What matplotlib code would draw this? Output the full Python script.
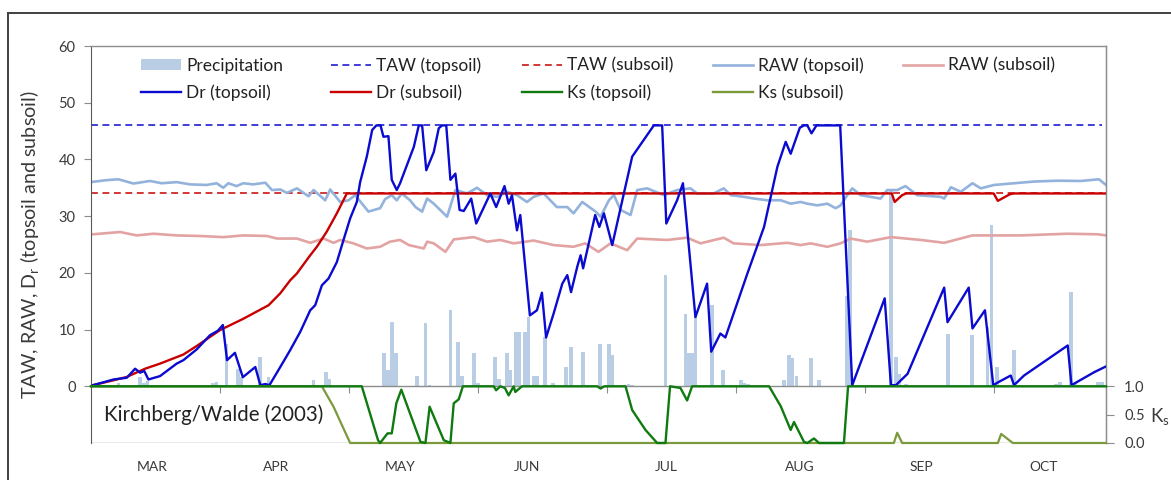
import matplotlib
matplotlib.use('Agg')
import matplotlib.pyplot as plt
from matplotlib.lines import Line2D
from matplotlib.patches import Patch

plt.rcParams['font.family'] = ['Lato', 'DejaVu Sans']

# ---------------- data (day 0 = 1 March 2003) ----------------
months = ['MAR', 'APR', 'MAY', 'JUN', 'JUL', 'AUG', 'SEP', 'OCT']
month_label_pos = [14.7, 44.5, 74.4, 104.7, 138.4, 170.4, 199.7, 229.0]
month_ticks = [31, 62, 93, 124, 155, 186, 217]

precip_day = [6.6, 11.8, 12.8, 13.6, 29.4, 30.2, 32.6, 35.4, 36.2, 40.7, 42.7, 49.0, 53.5, 56.5, 57.3,
              70.4, 71.4, 72.4, 73.4, 78.4, 80.4, 81.4, 86.4, 88.3, 89.1, 92.0, 93.0, 97.2, 98.0,
              100.0, 100.8, 102.2, 103.0, 104.4, 105.2, 106.4, 107.2, 109.2, 111.0, 114.2, 115.4,
              118.3, 122.3, 124.5, 125.3, 129.2, 130.0, 138.1, 142.9, 143.7, 144.5, 145.3, 149.3,
              152.0, 156.2, 157.0, 158.0, 166.6, 167.8, 168.6, 169.6, 173.0, 175.0, 181.6, 182.5,
              192.3, 193.5, 194.3, 196.0, 206.0, 211.7, 215.5, 216.5, 217.8, 221.9, 232.0, 233.0,
              235.6, 236.5, 242.0, 243.0]
precip_mm = [0.5, 1.7, 0.6, 1.0, 0.6, 0.8, 7.5, 3.1, 1.6, 5.2, 1.6, 0.3, 1.1, 2.5, 1.3,
             5.8, 2.8, 11.3, 5.8, 1.9, 11.1, 0.3, 13.5, 7.8, 1.9, 5.8, 0.5, 5.2, 1.2,
             5.8, 2.8, 9.6, 9.6, 9.6, 12.2, 1.9, 1.9, 8.7, 0.5, 3.4, 6.9,
             6.1, 7.5, 7.5, 5.5, 0.4, 0.3, 19.6, 12.8, 5.8, 5.8, 12.5, 14.3,
             2.8, 1.1, 0.5, 0.4, 1.1, 5.5, 4.9, 1.9, 4.9, 1.1, 16.0, 27.5,
             34.6, 5.2, 2.2, 0.4, 9.3, 9.0, 10.5, 28.4, 3.4, 6.4, 0.4, 0.8,
             16.6, 0.5, 0.8, 0.8]

taw_top = 46.0
taw_sub = 34.0

raw_top_day = [0.5, 3.8, 6.6, 10.2, 14.2, 17.0, 20.6, 23.8, 27.8, 30.2, 31.8, 33.0, 35.0, 36.6, 39.0,
               41.9, 43.5, 45.5, 47.1, 49.5, 52.3, 53.5, 56.3, 57.5, 59.9, 61.9, 63.5, 66.7, 69.5,
               70.7, 72.3, 73.5, 74.7, 76.7, 78.0, 79.6, 80.8, 82.4, 85.6, 87.6, 90.4, 92.8, 95.2,
               97.6, 100.0, 102.4, 104.8, 106.4, 108.8, 112.0, 114.5, 116.0, 118.1, 121.3, 122.5,
               124.5, 125.7, 127.3, 129.7, 131.3, 133.7, 137.7, 140.9, 144.1, 145.7, 149.7, 152.1,
               153.8, 157.0, 159.4, 162.6, 165.8, 168.2, 170.6, 172.2, 174.6, 177.0, 179.0, 180.2,
               181.8, 183.0, 185.0, 189.8, 191.4, 193.8, 195.8, 198.6, 204.3, 205.1, 206.7, 209.1,
               211.9, 213.9, 217.1, 221.9, 226.7, 232.3, 237.9, 242.3, 244.0]
raw_top_val = [36.05, 36.35, 36.5, 35.75, 36.2, 35.8, 36.0, 35.6, 35.5, 35.8, 35.0, 35.8, 35.3, 35.8, 35.6,
               35.9, 34.6, 34.7, 34.1, 34.9, 33.5, 34.6, 32.8, 34.7, 32.5, 32.8, 33.7, 30.8, 31.4,
               33.0, 33.7, 32.8, 34.0, 32.8, 31.6, 30.8, 33.1, 32.2, 29.9, 34.6, 34.0, 35.0, 33.7,
               33.4, 34.3, 33.7, 32.5, 33.4, 34.0, 31.6, 31.6, 30.5, 32.5, 30.8, 29.9,
               32.8, 33.7, 31.1, 30.2, 34.6, 34.9, 33.7, 34.6, 34.9, 34.0, 34.0, 34.9,
               33.7, 33.4, 33.1, 32.8, 32.8, 32.2, 32.5, 32.2, 31.9, 32.2, 31.4, 31.9,
               33.7, 34.9, 33.7, 33.1, 34.6, 34.6, 35.3, 33.7, 33.4, 33.1, 35.1, 34.3,
               35.8, 34.9, 35.5, 35.8, 36.1, 36.25, 36.2, 36.5, 35.5]

raw_sub_day = [0.5, 7.0, 11.0, 15.0, 20.6, 26.2, 31.8, 36.6, 42.3, 44.7, 49.5, 52.7, 55.9, 58.3, 59.9,
               63.1, 66.3, 69.5, 71.9, 74.3, 76.4, 80.0, 80.8, 82.4, 85.2, 87.2, 92.0, 95.2, 98.4,
               101.6, 106.4, 111.2, 116.0, 118.8, 122.0, 124.9, 128.9, 131.3, 138.5, 143.3, 146.5,
               152.1, 154.5, 161.0, 167.4, 170.6, 173.0, 177.0, 180.2, 182.6, 186.6, 192.3, 199.5,
               205.1, 211.9, 217.1, 223.5, 234.8, 242.0, 244.0]
raw_sub_val = [26.8, 27.2, 26.6, 26.9, 26.6, 26.5, 26.3, 26.6, 26.5, 26.05, 26.05, 25.3, 26.05, 25.3, 25.8,
               25.2, 24.3, 24.6, 25.5, 25.8, 24.9, 24.3, 25.5, 25.2, 23.7, 25.9, 26.3, 25.5, 25.8,
               25.2, 25.7, 24.9, 24.6, 25.2, 23.7, 25.2, 24.0, 26.05, 25.8, 26.2, 25.2,
               26.2, 25.2, 24.9, 25.3, 24.9, 25.2, 24.6, 25.2, 26.05, 25.5, 26.3, 25.8,
               25.3, 26.6, 26.6, 26.6, 26.9, 26.8, 26.6]

dr_top_day = [0.5, 5.4, 8.6, 10.6, 11.8, 12.8, 13.8, 16.6, 20.6, 22.2, 25.4, 28.6, 30.5, 31.7, 32.7,
              34.6, 36.5, 39.5, 40.7, 41.9, 42.9, 45.5, 47.9, 50.3, 52.7, 53.9, 55.5, 57.1, 59.1,
              60.7, 62.3, 63.9, 64.7, 66.3, 67.6, 68.6, 69.6, 70.3, 71.5, 72.3, 73.5, 74.3, 77.6,
              78.8, 79.6, 80.6, 82.4, 83.6, 84.4, 85.4, 86.4, 87.6, 88.6, 89.6, 91.4, 92.6, 96.0,
              97.4, 99.4, 100.4, 101.2, 102.4, 103.2, 105.5, 107.2, 108.4, 109.4, 111.2, 113.3,
              114.5, 115.4, 116.9, 117.7, 118.3, 121.2, 122.2, 123.3, 125.3, 128.1, 130.1, 135.3,
              137.3, 138.3, 140.9, 142.3, 145.3, 148.1, 149.1, 151.3, 152.5, 157.8, 161.8, 165.0,
              167.0, 168.2, 170.4, 171.4, 172.2, 173.2, 174.4, 180.1, 183.0, 190.8, 192.3, 193.5,
              196.3, 205.1, 205.9, 211.0, 211.9, 214.9, 216.9, 218.3, 221.1, 221.9, 224.3, 234.8,
              235.7, 241.2, 244.0]
dr_top_val = [0.2, 1.2, 1.5, 3.1, 2.4, 2.7, 1.2, 1.8, 4.0, 4.6, 6.5, 9.0, 9.8, 10.8, 4.6,
              5.9, 1.6, 3.4, 0.2, 0.4, 0.2, 3.4, 6.4, 9.6, 13.4, 14.3, 17.8, 19.0, 21.9,
              25.8, 29.6, 32.5, 36.0, 40.5, 45.2, 46.0, 46.0, 44.0, 44.1, 36.4, 34.6, 35.8, 42.2,
              46.0, 46.0, 38.1, 41.3, 45.5, 46.0, 46.0, 36.4, 37.5, 31.1, 30.9, 33.1, 28.7, 34.0,
              31.6, 35.3, 32.2, 33.7, 27.5, 30.2, 12.5, 13.4, 16.5, 8.6, 12.8, 18.1,
              19.6, 16.6, 21.1, 23.1, 20.8, 30.2, 28.1, 30.5, 24.9, 34.0, 40.5, 46.0,
              46.0, 28.7, 32.8, 35.8, 12.2, 18.1, 6.1, 9.3, 8.6, 19.9, 28.1, 38.7,
              43.1, 41.0, 45.6, 46.0, 46.0, 44.6, 46.0, 46.0, 0.2, 15.5, 0.2, 0.2,
              2.2, 17.4, 11.3, 17.4, 10.2, 13.4, 0.2, 0.8, 1.9, 0.2, 1.9, 7.2,
              0.2, 2.5, 3.5]

dr_sub_day = [0.5, 5.4, 8.6, 13.0, 16.6, 22.2, 25.4, 31.0, 36.6, 42.7, 45.5, 47.9, 49.5, 52.7, 54.3,
              56.7, 59.1, 61.5, 192.5, 193.2, 195.0, 196.0, 217.0, 218.0, 221.0, 222.0, 244.0]
dr_sub_val = [0.2, 1.06, 1.65, 3.1, 4.0, 5.6, 7.1, 9.9, 11.9, 14.3, 16.4, 18.7, 19.9, 23.1, 24.6,
              27.3, 30.5, 34.0, 34.0, 32.5, 33.7, 34.0, 34.0, 32.7, 33.9, 34.0, 34.0]

ks_top_day = [0, 65.1, 69.0, 69.5, 71.3, 72.3, 73.4, 74.6, 79.2, 80.4, 81.4, 84.8, 86.4, 87.2, 88.4,
              89.4, 96.8, 97.4, 98.4, 99.5, 100.4, 101.6, 102.0, 103.6, 121.7, 122.5, 123.4, 128.5,
              130.1, 133.3, 136.1, 138.1, 139.2, 141.7, 143.3, 144.5, 163.0, 165.8, 168.2, 169.0,
              171.4, 172.2, 173.8, 175.0, 181.0, 182.0, 244.0]
ks_top_val = [1, 1, 0.05, 0, 0.17, 0.17, 0.70, 0.94, 0.02, 0, 0.64, 0.05, 0, 0.70, 0.77,
              1, 1, 0.93, 1, 0.97, 0.84, 1, 0.90, 1, 1, 0.96, 1, 1,
              0.58, 0.23, 0, 0, 1, 0.97, 0.75, 1, 1, 0.65, 0.23, 0.37,
              0.02, 0, 0.08, 0, 0, 1, 1]

ks_sub_day = [0, 55.5, 58.3, 62.3, 193.0, 193.8, 195.0, 218.0, 218.8, 221.6, 244.0]
ks_sub_val = [1, 1, 0.64, 0, 0, 0.18, 0, 0, 0.16, 0, 0]

# ---------------- colours ----------------
c_prec = '#b9cde5'
c_dr_top = '#0a0ad0'
c_dr_sub = '#c80000'
c_raw_top = '#93b3dc'
c_raw_sub = '#e3a3a3'
c_ks_top = '#0f7a0f'
c_ks_sub = '#7a9a3c'
c_axis = '#8c8c8c'
c_text = '#3a3a3a'

W, H = 1171, 480
fig = plt.figure(figsize=(W / 100, H / 100), dpi=100)
ax = fig.add_axes([91 / W, 1 - 443 / H, (1106 - 91) / W, (443 - 46) / H])

# outer frame
fig.add_artist(Line2D([7.5 / W, 7.5 / W], [0, 1 - 13 / H], transform=fig.transFigure, color='#404040', lw=1.4))
fig.add_artist(Line2D([7.5 / W, 1.0], [1 - 13 / H, 1 - 13 / H], transform=fig.transFigure, color='#404040', lw=1.4))

ax.bar(precip_day, precip_mm, width=0.9, color=c_prec, zorder=1, label='Precipitation')
ax.plot([0, 243], [taw_top, taw_top], color=c_dr_top, lw=1.1, dashes=(4.5, 3), zorder=2, label='TAW (topsoil)')
ax.plot([0, 243], [taw_sub, taw_sub], color=c_dr_sub, lw=1.1, dashes=(4.5, 3), zorder=2, label='TAW (subsoil)')
ax.plot(raw_top_day, raw_top_val, color=c_raw_top, lw=1.9, zorder=2, label='RAW (topsoil)')
ax.plot(raw_sub_day, raw_sub_val, color=c_raw_sub, lw=1.9, zorder=2, label='RAW (subsoil)')
ax.plot(dr_top_day, dr_top_val, color=c_dr_top, lw=1.7, zorder=4, label='Dr (topsoil)')
ax.plot(dr_sub_day, dr_sub_val, color=c_dr_sub, lw=1.7, zorder=3, label='Dr (subsoil)')

ax.set_xlim(0, 244)
ax.set_ylim(-10, 60)
ax.set_yticks(range(0, 61, 10))
ax.set_xticks(month_ticks)
ax.spines['bottom'].set_position(('data', 0))
for s in ['top', 'right', 'bottom']:
    ax.spines[s].set_color(c_axis)
    ax.spines[s].set_linewidth(1.0)
ax.spines['left'].set_color('#5a5a5a')
ax.axhline(-10, color=c_axis, lw=1.0, zorder=0.5)
ax.tick_params(axis='y', direction='out', length=5, color=c_axis, labelsize=10.5, labelcolor=c_text, pad=6)
ax.tick_params(axis='x', direction='out', length=5, color=c_axis, labelbottom=False)

for pos, lab in zip(month_label_pos, months):
    ax.text(pos, -14.3, lab, ha='center', va='center', fontsize=10, color=c_text, clip_on=False)

ax.set_ylabel('TAW, RAW, D$_\\mathregular{r}$ (topsoil and subsoil)', fontsize=14.2, color=c_text)
ax.yaxis.set_label_coords(-49 / 1015, 0.5)

ax.text(13 / 1015, (443 - 415) / 397, 'Kirchberg/Walde (2003)', transform=ax.transAxes,
        fontsize=14.8, color='#222222', ha='left', va='center')

ax2 = ax.twinx()
ax2.set_ylim(0, 7)
ax2.plot(ks_sub_day, ks_sub_val, color=c_ks_sub, lw=1.6, zorder=3, label='Ks (subsoil)', clip_on=False)
ax2.plot(ks_top_day, ks_top_val, color=c_ks_top, lw=1.7, zorder=4, label='Ks (topsoil)', clip_on=False)
ax2.set_yticks([0, 0.5, 1.0])
ax2.set_yticklabels(['0.0', '0.5', '1.0'])
for s in ['top', 'left', 'bottom']:
    ax2.spines[s].set_visible(False)
ax2.spines['right'].set_color(c_axis)
ax2.tick_params(axis='y', direction='out', length=6, color=c_axis, labelsize=10.5, labelcolor=c_text, pad=7)
fig.text(1150 / W, 1 - 417 / H, 'K$_\\mathregular{s}$', fontsize=13.5, color=c_text, ha='left', va='center')

# legend: 5 columns laid out like the original
h_prec = Patch(facecolor=c_prec, edgecolor='none')
h_taw_t = Line2D([], [], color=c_dr_top, lw=1.1, dashes=(4.5, 3))
h_taw_s = Line2D([], [], color=c_dr_sub, lw=1.1, dashes=(4.5, 3))
h_raw_t = Line2D([], [], color=c_raw_top, lw=1.9)
h_raw_s = Line2D([], [], color=c_raw_sub, lw=1.9)
h_dr_t = Line2D([], [], color=c_dr_top, lw=1.7)
h_dr_s = Line2D([], [], color=c_dr_sub, lw=1.7)
h_ks_t = Line2D([], [], color=c_ks_top, lw=1.7)
h_ks_s = Line2D([], [], color=c_ks_sub, lw=1.7)
columns = [
    ([h_prec, h_dr_t], ['Precipitation', 'Dr (topsoil)']),
    ([h_taw_t, h_dr_s], ['TAW (topsoil)', 'Dr (subsoil)']),
    ([h_taw_s, h_ks_t], ['TAW (subsoil)', 'Ks (topsoil)']),
    ([h_raw_t, h_ks_s], ['RAW (topsoil)', 'Ks (subsoil)']),
    ([h_raw_s], ['RAW (subsoil)']),
]
col_x = [141, 331, 522, 713, 903]
leg_fs = 12.5
leg_px = leg_fs * 100 / 72
for (hs, ls), cx in zip(columns, col_x):
    fig.legend(hs, ls, loc='upper left', bbox_to_anchor=(cx / W, 1 - 57.5 / H), frameon=False,
               fontsize=leg_fs, borderpad=0, borderaxespad=0, handlelength=40 / leg_px,
               handletextpad=5 / leg_px, handleheight=10.7 / leg_px,
               labelspacing=0.62, labelcolor='#222222')

fig.savefig('out.png', dpi=100)
